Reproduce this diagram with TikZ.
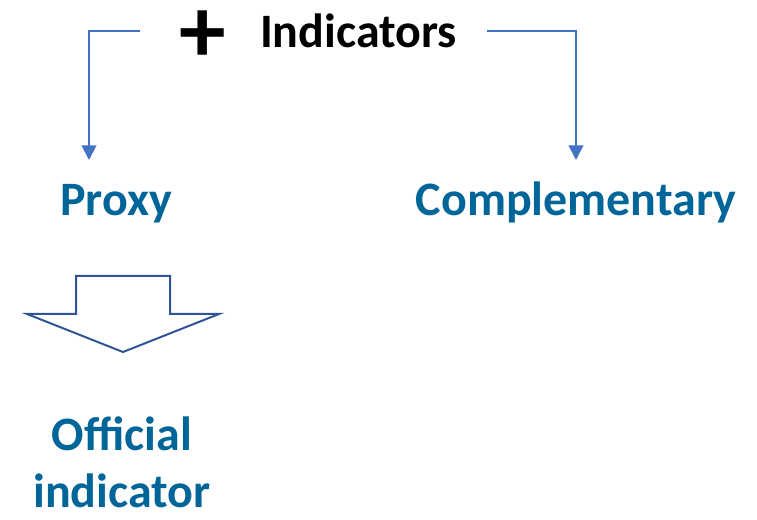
\documentclass[tikz,border=0pt]{standalone}
\usepackage{fontspec}
\setmainfont{Carlito}
\usepackage{xcolor}
\definecolor{colorLabel}{RGB}{0,101,153}
\definecolor{colorLink}{RGB}{68,114,196}
\definecolor{colorBlock}{RGB}{47,85,151}
\usetikzlibrary{arrows.meta, positioning}
\tikzset{labeltext/.style={font=\fontsize{36}{43}\selectfont\bfseries, inner sep=0pt}}

\begin{document}
\begin{tikzpicture}[x=0.75pt, y=-0.75pt, >={Triangle[length=11pt,width=11pt]}, line width=1.5pt]
\useasboundingbox (0,0) rectangle (757,520);
\node[labeltext, anchor=base west] (ind) at (259,48) {Indicators};
\node[labeltext, font=\fontsize{70}{70}\selectfont\bfseries] (plus) at (203,37) {+};
\node[labeltext, text=colorLabel, anchor=base] (proxy) at (116,216) {Proxy};
\node[labeltext, text=colorLabel, anchor=base] (comp) at (576,216) {Complementary};
\node[labeltext, text=colorLabel, align=center] (off) at (122,462) {Official\\indicator};
% links from the title
\coordinate (lstart) at (140,31);
\coordinate (ltip) at (89,160);
\coordinate (rstart) at (487,31);
\coordinate (rtip) at (576,160);
\draw[->, colorLink] (lstart) -| (ltip);
\draw[->, colorLink] (rstart) -| (rtip);
% block arrow
\draw[colorBlock, line join=miter] (76,276) -- (170,276) -- (170,314) -- (219,314) -- (123,352) -- (27,314) -- (76,314) -- cycle;
\end{tikzpicture}
\end{document}
